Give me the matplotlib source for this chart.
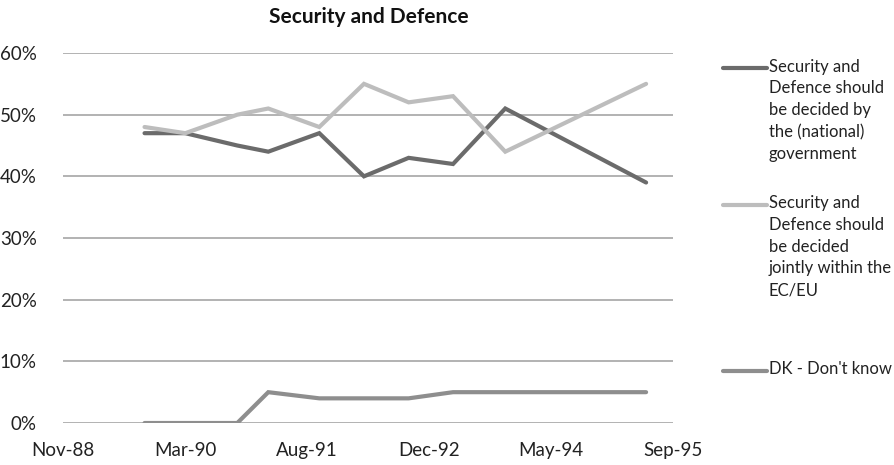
#!/usr/bin/env python

import datetime as dt
import matplotlib
matplotlib.use('Agg')
from matplotlib import pyplot as plt
from matplotlib import dates as mdates
from matplotlib.lines import Line2D
from matplotlib.ticker import FuncFormatter

# survey dates and shares (%)
dates = ['1989-10-15', '1990-03-31', '1990-10-30', '1991-03-06', '1991-10-01',
         '1992-04-01', '1992-10-01', '1993-04-01', '1993-11-01', '1995-06-01']
national = [47, 47, 45, 44, 47, 40, 43, 42, 51, 39]
jointly = [48, 47, 50, 51, 48, 55, 52, 53, 44, 55]
dont_know = [0, 0, 0, 5, 4, 4, 4, 5, 5, 5]

labels = ['Security and\nDefence should\nbe decided by\nthe (national)\ngovernment',
          'Security and\nDefence should\nbe decided\njointly within the\nEC/EU',
          'DK - Don\'t know']
colors = ['#6b6b6b', '#bdbdbd', '#8e8e8e']

plt.rcParams['font.family'] = ['Lato', 'DejaVu Sans']

x = [dt.datetime.strptime(d, '%Y-%m-%d') for d in dates]

fig = plt.figure(figsize=(8.94, 4.65), dpi=100)
ax = fig.add_axes([0.0705, 0.0903, 0.6825, 0.7957])

for series, col in zip([national, jointly, dont_know], colors):
    ax.plot(x, series, '-', color=col, linewidth=3.0, solid_capstyle='round',
            solid_joinstyle='miter', zorder=3)

# axis: Excel-style date axis, ticks every 500 days
start = dt.datetime(1988, 11, 15)
ticks = [start + dt.timedelta(days=500 * k) for k in range(6)]
ax.set_xlim(ticks[0], ticks[-1])
ax.set_xticks(ticks)
ax.xaxis.set_major_formatter(mdates.DateFormatter('%b-%y'))
ax.set_ylim(0, 60)
ax.set_yticks(range(0, 61, 10))
ax.yaxis.set_major_formatter(FuncFormatter(lambda v, p: '%d%%' % v))

ax.grid(axis='y', color='#a6a6a6', linewidth=1.2, zorder=1)
for s in ax.spines.values():
    s.set_visible(False)
ax.tick_params(length=0, labelsize=13.5, colors='#222222')
ax.tick_params(axis='y', pad=19)
ax.tick_params(axis='x', pad=14)

fig.text(0.412, 0.963, 'Security and Defence', ha='center', va='center',
         fontsize=15, fontweight='bold', color='#111111')

# legend drawn by hand to keep handle next to first text line
leg_y = [0.853, 0.560, 0.203]
for yy, lab, col in zip(leg_y, labels, colors):
    fig.add_artist(Line2D([0.809, 0.858], [yy, yy], transform=fig.transFigure,
                          color=col, linewidth=3.0, solid_capstyle='round'))
    fig.text(0.860, yy + 0.021, lab, ha='left', va='top', fontsize=12,
             linespacing=1.45, color='#222222')

plt.savefig('out.png', dpi=100)
plt.close(fig)
